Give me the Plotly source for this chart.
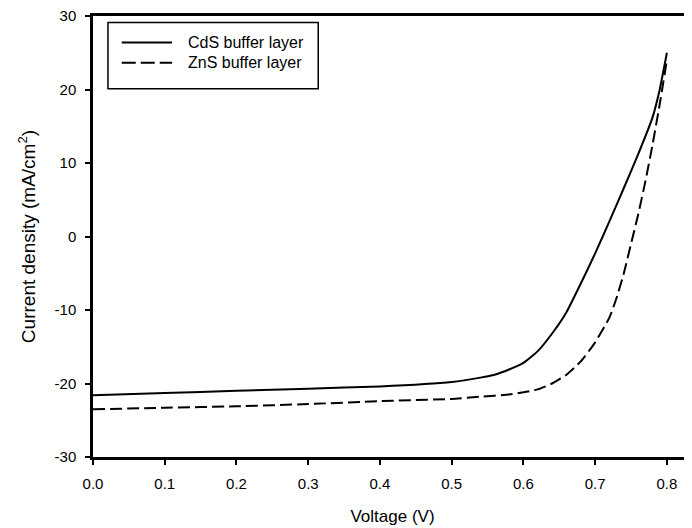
import plotly.graph_objects as go

# Data
v_cds = [0.0, 0.1, 0.2, 0.3, 0.4, 0.5, 0.54, 0.56, 0.58, 0.60, 0.62, 0.64, 0.66, 0.68, 0.70, 0.72, 0.74, 0.76, 0.78, 0.79, 0.80]
j_cds = [-21.6, -21.3, -21.0, -20.7, -20.4, -19.8, -19.2, -18.8, -18.1, -17.2, -15.6, -13.2, -10.3, -6.4, -2.3, 2.1, 6.6, 11.2, 16.2, 20.0, 25.0]

v_zns = [0.0, 0.1, 0.2, 0.3, 0.4, 0.5, 0.54, 0.58, 0.60, 0.62, 0.64, 0.66, 0.68, 0.70, 0.72, 0.73, 0.74, 0.75, 0.76, 0.77, 0.78, 0.79, 0.80]
j_zns = [-23.5, -23.3, -23.1, -22.8, -22.4, -22.1, -21.8, -21.5, -21.2, -20.8, -20.0, -18.8, -17.0, -14.4, -11.0, -8.3, -5.0, -1.0, 3.0, 7.5, 12.5, 18.0, 24.0]

x_ticks = [0.0, 0.1, 0.2, 0.3, 0.4, 0.5, 0.6, 0.7, 0.8]
x_tick_labels = ["0.0", "0.1", "0.2", "0.3", "0.4", "0.5", "0.6", "0.7", "0.8"]
y_ticks = [-30, -20, -10, 0, 10, 20, 30]
y_tick_labels = ["-30", "-20", "-10", "0", "10", "20", "30"]
series_names = ["CdS buffer layer", "ZnS buffer layer"]

FONT = "Liberation Sans, Arial, sans-serif"

fig = go.Figure()
fig.add_trace(go.Scatter(x=v_cds, y=j_cds, mode="lines", name=series_names[0],
                         line=dict(color="black", width=2, shape="spline", smoothing=0.5),
                         showlegend=False))
fig.add_trace(go.Scatter(x=v_zns, y=j_zns, mode="lines", name=series_names[1],
                         line=dict(color="black", width=2, dash="12px,5px", shape="spline", smoothing=0.5),
                         showlegend=False))

# Custom legend (box, line samples, labels)
shapes = [
    dict(type="rect", xref="paper", yref="paper", x0=0.025, x1=0.376, y0=0.835, y1=0.985,
         line=dict(color="black", width=1.5), fillcolor="white"),
    dict(type="line", xref="paper", yref="paper", x0=0.048, x1=0.132, y0=0.94, y1=0.94,
         line=dict(color="black", width=2)),
    dict(type="line", xref="paper", yref="paper", x0=0.048, x1=0.132, y0=0.894, y1=0.894,
         line=dict(color="black", width=2, dash="14px,5px")),
]
annotations = [
    dict(text=series_names[0], xref="paper", yref="paper", x=0.155, y=0.94, xanchor="left",
         yanchor="middle", showarrow=False, font=dict(family=FONT, size=16, color="black")),
    dict(text=series_names[1], xref="paper", yref="paper", x=0.155, y=0.894, xanchor="left",
         yanchor="middle", showarrow=False, font=dict(family=FONT, size=16, color="black")),
]

fig.update_layout(
    width=692, height=528,
    margin=dict(l=85, r=8, t=8, b=79),
    paper_bgcolor="white", plot_bgcolor="white",
    font=dict(family=FONT, size=15, color="black"),
    shapes=shapes, annotations=annotations,
    xaxis=dict(range=[0, 0.835], tickvals=x_ticks, ticktext=x_tick_labels, automargin=False,
               showgrid=False, zeroline=False, showline=True, mirror=True,
               linecolor="black", linewidth=2.5, ticks="outside", ticklen=5,
               tickwidth=2, tickcolor="black", ticklabelstandoff=6,
               ticklabeloverflow="allow", tickfont=dict(size=15),
               title=dict(text="Voltage (V)", font=dict(size=17), standoff=20)),
    yaxis=dict(range=[-30, 30], tickvals=y_ticks, ticktext=y_tick_labels, showgrid=False,
               zeroline=False, automargin=False,
               showline=True, linecolor="black", linewidth=2.5, ticks="outside",
               ticklen=5, tickwidth=2, tickcolor="black", ticklabelstandoff=6,
               ticklabeloverflow="allow", tickfont=dict(size=15),
               title=dict(text="Current density (mA/cm<sup>2</sup>)", font=dict(size=19), standoff=14)),
)

fig.write_html("out.html")
